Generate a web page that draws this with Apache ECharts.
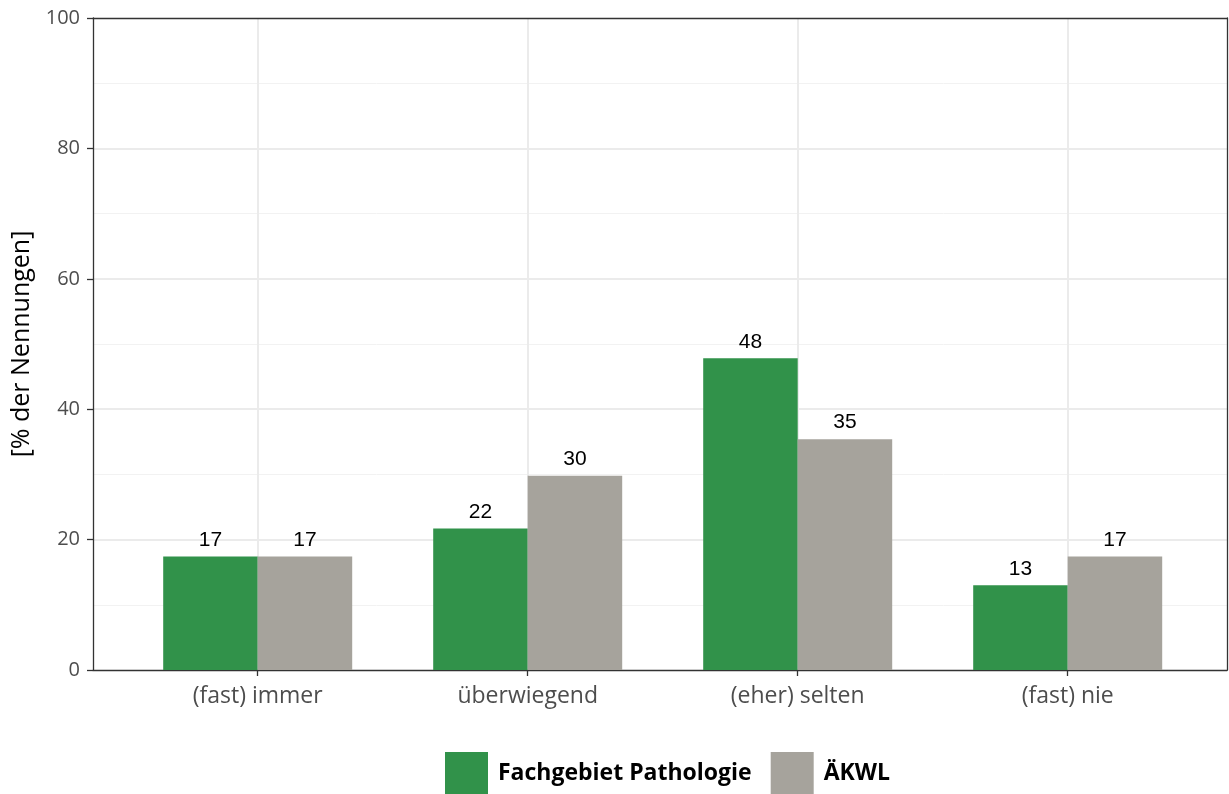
<!DOCTYPE html>
<html>
<head>
<meta charset="utf-8">
<script src="https://cdn.jsdelivr.net/npm/echarts@6/dist/echarts.min.js"></script>
<style>html,body{margin:0;padding:0;background:#fff;}#c{width:1229px;height:794px;}</style>
</head>
<body>
<div id="c"></div>
<script>
const categories = ['(fast) immer', 'überwiegend', '(eher) selten', '(fast) nie'];
const seriesNames = ['Fachgebiet Pathologie', 'ÄKWL'];
const pathologie = [17.4, 21.7, 47.8, 13.0];
const aekwl = [17.4, 29.8, 35.4, 17.4];
const yTicks = [0, 20, 40, 60, 80, 100];
const colors = ['#31924a', '#a6a39c'];

const chart = echarts.init(document.getElementById('c'));
const idx = categories.map((_, i) => i);
const frame = { color: '#333', width: 1.3 };
const mk = (name, vals, color) => ({
  name: name,
  type: 'bar',
  barWidth: 94.5,
  barGap: '0%',
  data: vals.map((v, i) => [i, v]),
  itemStyle: { color: color },
  label: {
    show: true, position: 'top', distance: 6,
    fontFamily: 'Liberation Sans', fontSize: 21, color: '#000',
    formatter: p => Math.round(p.value[1])
  }
});
chart.setOption({
  animation: false,
  backgroundColor: '#fff',
  grid: { left: 93, right: 2, top: 18, bottom: 124, show: true, borderWidth: 0, backgroundColor: '#fff' },
  legend: {
    top: 752, left: 445, padding: 0, itemWidth: 43, itemHeight: 43, itemGap: 19,
    icon: 'rect', data: seriesNames,
    textStyle: { fontFamily: 'Open Sans', fontWeight: 'bold', fontSize: 23, color: '#000', padding: [0, 0, 0, 5] }
  },
  xAxis: [{
    type: 'value', min: -0.61, max: 3.59,
    axisLine: { show: true, onZero: false, lineStyle: frame },
    axisTick: { show: true, customValues: idx, length: 6, lineStyle: frame },
    axisLabel: { customValues: idx, formatter: v => categories[Math.round(v)] || '', fontFamily: 'Open Sans', fontSize: 23, color: '#4d4d4d', margin: 15 },
    splitLine: { show: true, lineStyle: { color: '#ebebeb', width: 2 } }
  }, {
    type: 'value', min: -0.61, max: 3.59, position: 'top',
    axisLine: { show: true, onZero: false, lineStyle: frame },
    axisTick: { show: false }, axisLabel: { show: false }, splitLine: { show: false }
  }],
  yAxis: [{
    type: 'value', min: 0, max: 100, interval: 20,
    name: '[% der Nennungen]', nameLocation: 'middle', nameGap: 57,
    nameTextStyle: { fontFamily: 'Open Sans', fontSize: 25, color: '#000' },
    axisLine: { show: true, onZero: false, lineStyle: frame },
    axisTick: { show: true, length: 6, lineStyle: frame },
    axisLabel: { fontFamily: 'Open Sans', fontSize: 20, color: '#4d4d4d', margin: 13, formatter: v => yTicks.includes(v) ? String(v) : '' },
    splitLine: { show: true, showMinLine: false, showMaxLine: false, lineStyle: { color: '#ebebeb', width: 2 } },
    minorTick: { show: false, splitNumber: 2 },
    minorSplitLine: { show: true, lineStyle: { color: '#f2f2f2', width: 1 } }
  }, {
    type: 'value', min: 0, max: 100, interval: 20, position: 'right',
    axisLine: { show: true, onZero: false, lineStyle: frame },
    axisTick: { show: false }, axisLabel: { show: false }, splitLine: { show: false }
  }],
  series: [mk(seriesNames[0], pathologie, colors[0]), mk(seriesNames[1], aekwl, colors[1])]
});
</script>
</body>
</html>
